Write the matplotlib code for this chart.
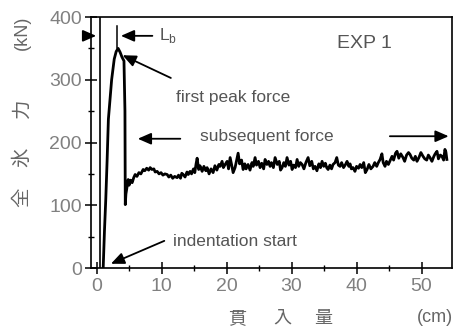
import matplotlib
matplotlib.use("Agg")
import matplotlib.pyplot as plt
from matplotlib import font_manager as fm

names = {f.name for f in fm.fontManager.ttflist}
NARROW = "Liberation Sans Narrow" if "Liberation Sans Narrow" in names else "Liberation Sans"
plt.rcParams['font.family'] = [NARROW, 'DejaVu Sans']

# ---- data ----
disp = [1.0, 1.1, 1.2, 1.4, 1.6, 1.8, 2.1, 2.3, 2.7, 3.0,
        3.3, 3.6, 3.9, 4.2, 4.35, 4.4, 4.5, 4.65, 4.85, 5.0,
        5.2, 5.46, 5.7, 5.92, 6.2, 6.5, 6.8, 7.15, 7.4, 7.7,
        8.0, 8.23, 8.5, 8.8, 9.0, 9.31, 9.6, 9.9, 10.2, 10.5,
        10.85, 11.1, 11.4, 11.7, 12.0, 12.38, 12.6, 12.9, 13.1, 13.31,
        13.6, 13.9, 14.1, 14.38, 14.6, 14.9, 15.1, 15.3, 15.46, 15.7,
        15.9, 16.23, 16.5, 16.8, 17.0, 17.3, 17.6, 17.92, 18.2, 18.5,
        18.8, 19.0, 19.3, 19.5, 19.77, 20.08, 20.3, 20.54, 20.8, 21.0,
        21.3, 21.5, 21.77, 22.0, 22.3, 22.54, 22.8, 23.0, 23.3, 23.6,
        23.9, 24.1, 24.38, 24.6, 24.9, 25.15, 25.4, 25.7, 25.92, 26.2,
        26.45, 26.69, 26.9, 27.2, 27.46, 27.8, 28.1, 28.3, 28.54, 28.8,
        29.05, 29.3, 29.6, 29.85, 30.08, 30.3, 30.6, 30.85, 31.1, 31.35,
        31.62, 31.9, 32.2, 32.54, 32.8, 33.1, 33.35, 33.62, 33.9, 34.2,
        34.45, 34.69, 34.95, 35.2, 35.4, 35.62, 35.9, 36.15, 36.38, 36.69,
        36.95, 37.2, 37.46, 37.7, 38.0, 38.3, 38.54, 38.8, 39.0, 39.2,
        39.46, 39.75, 40.0, 40.3, 40.54, 40.8, 41.1, 41.35, 41.62, 41.9,
        42.2, 42.54, 42.8, 43.1, 43.35, 43.62, 43.9, 44.1, 44.38, 44.6,
        44.9, 45.2, 45.46, 45.7, 46.0, 46.23, 46.5, 46.8, 47.15, 47.4,
        47.7, 48.0, 48.23, 48.5, 48.8, 49.05, 49.3, 49.6, 49.9, 50.23,
        50.5, 50.8, 51.05, 51.3, 51.6, 51.9, 52.1, 52.38, 52.6, 52.9,
        53.15, 53.4, 53.6, 53.75, 53.9]
force = [0, 30, 60, 110, 170, 237, 275, 300, 333, 345,
         350, 344, 336, 330, 250, 101, 118, 128, 141, 132,
         140, 136, 144, 149, 146, 152, 150, 157, 155, 159,
         156, 160, 157, 158, 153, 154, 150, 152, 148, 150,
         149, 145, 148, 143, 146, 144, 148, 143, 151, 149,
         145, 153, 149, 154, 150, 158, 152, 166, 175, 157,
         163, 154, 162, 155, 160, 150, 158, 152, 163, 156,
         165, 162, 170, 160, 165, 170, 158, 176, 163, 152,
         160, 170, 183, 166, 172, 157, 166, 158, 165, 156,
         168, 162, 176, 164, 170, 160, 167, 158, 173, 165,
         170, 162, 168, 160, 176, 165, 170, 156, 160, 168,
         162, 176, 164, 170, 157, 164, 160, 173, 162, 168,
         165, 158, 168, 176, 163, 170, 158, 162, 155, 166,
         160, 170, 162, 167, 160, 157, 164, 158, 165, 168,
         176, 164, 162, 168, 160, 165, 170, 162, 166, 158,
         160, 154, 162, 159, 165, 160, 168, 152, 157, 165,
         158, 162, 168, 162, 168, 173, 182, 168, 162, 170,
         165, 172, 178, 172, 183, 186, 175, 182, 176, 170,
         180, 184, 181, 175, 172, 178, 170, 176, 184, 178,
         174, 172, 180, 176, 170, 178, 182, 186, 174, 180,
         178, 172, 189, 185, 173]

start_line_x = 0.55      # vertical reference line (indentation start)
lb_line_x = 3.15         # end of L_b
xticks = [0, 10, 20, 30, 40, 50]
yticks = [0, 100, 200, 300, 400]

fig = plt.figure(figsize=(4.57, 3.31), dpi=100)
ax = fig.add_axes([0.2002, 0.1903, 0.789, 0.7583])

ax.plot(disp, force, color='black', lw=2.0, solid_joinstyle='round')
ax.axvline(start_line_x, color='black', lw=1.2)
ax.plot([lb_line_x, lb_line_x], [350, 386], color='black', lw=1.1)

ax.set_xlim(-0.8, 54.7)
ax.set_ylim(0, 400)
ax.set_xticks(xticks)
ax.set_yticks(yticks)
ax.set_xticks([5, 15, 25, 35, 45], minor=True)
ax.set_yticks([50, 150, 250, 350], minor=True)
ax.tick_params(which='major', direction='inout', length=8, width=1.1,
               labelsize=14, labelcolor='#808080', pad=3)
ax.tick_params(which='minor', direction='inout', length=4, width=1.0)
for s in ax.spines.values():
    s.set_linewidth(1.2)

arrow_kw = dict(arrowstyle='-|>,head_length=0.8,head_width=0.35', color='black', lw=1.3)
txt_kw = dict(fontsize=12.5, color='#555555')

# L_b arrows
ax.annotate('', xy=(0.35, 370), xytext=(-2.3, 370), arrowprops=arrow_kw, annotation_clip=False)
ax.annotate('', xy=(3.3, 370), xytext=(9.0, 370), arrowprops=arrow_kw)
ax.text(9.6, 370, 'L$_\\mathregular{b}$', va='center', ha='left', **txt_kw)

ax.annotate('', xy=(3.6, 341), xytext=(11.8, 301), arrowprops=arrow_kw)
ax.text(12.2, 272, 'first peak force', va='center', ha='left', **txt_kw)

ax.annotate('', xy=(5.9, 206), xytext=(13.3, 206), arrowprops=arrow_kw)
ax.text(15.9, 210, 'subsequent force', va='center', ha='left', **txt_kw)
ax.annotate('', xy=(54.6, 210), xytext=(44.7, 210), arrowprops=arrow_kw, annotation_clip=False)

ax.annotate('', xy=(1.8, 5), xytext=(10.8, 45), arrowprops=arrow_kw)
ax.text(11.8, 43, 'indentation start', va='center', ha='left', **txt_kw)

ax.text(37.0, 357, 'EXP 1', va='center', ha='left', fontsize=14, color='#555555')

# axis labels (Japanese)
cjk = ['Noto Sans CJK JP', 'DejaVu Sans']
for ch, ypx in [('全', 197), ('氷', 157), ('力', 108)]:
    fig.text(22 / 457, 1 - ypx / 331, ch, rotation=90, ha='center', va='center',
             fontsize=14, color='#666666', family=cjk)
fig.text(22 / 457, 1 - 33 / 331, '(kN)', rotation=90, ha='center', va='center',
         fontsize=13, color='#666666')
for ch, xpx in [('貫', 237), ('入', 282), ('量', 323)]:
    fig.text(xpx / 457, 1 - 318 / 331, ch, ha='center', va='center',
             fontsize=13, color='#666666', family=cjk)
fig.text(435 / 457, 1 - 318 / 331, '(cm)', ha='center', va='center',
         fontsize=13, color='#666666')

fig.savefig('out.png', dpi=100)
